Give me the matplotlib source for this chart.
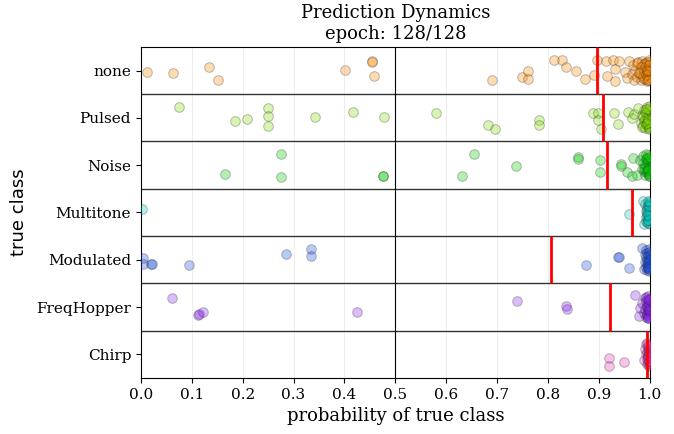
import matplotlib
matplotlib.use("Agg")
import matplotlib.pyplot as plt
import numpy as np

classes = ["none", "Pulsed", "Noise", "Multitone", "Modulated", "FreqHopper", "Chirp"]
colors = ["#ff8800", "#80dd00", "#00d000", "#00ccc0", "#1a4fe0", "#8a1ef0", "#e632b4"]
thresholds = [0.897, 0.908, 0.916, 0.965, 0.805, 0.921, 0.995]

none_x = [0.013, 0.064, 0.134, 0.152, 0.401, 0.455, 0.455, 0.458, 0.691, 0.749, 0.760, 0.760,
          0.812, 0.828, 0.835, 0.856, 0.872, 0.890, 0.897, 0.914, 0.916, 0.927, 0.931, 0.940,
          0.931, 0.952, 0.955, 0.960, 0.965, 0.968, 0.970, 0.972, 0.975, 0.977, 0.980, 0.982,
          0.984, 0.985, 0.987, 0.988, 0.990, 0.991, 0.992, 0.993, 0.994, 0.995, 0.996, 0.997,
          0.998, 0.999, 0.999, 1.000, 1.000, 0.998, 0.996, 0.994, 0.992, 0.989, 0.986, 0.983,
          0.979, 0.974, 0.999, 0.997, 0.995]
none_j = [0.04, 0.06, -0.07, 0.20, -0.01, -0.20, -0.18, 0.12, 0.20, 0.13, 0.01, 0.17,
          -0.22, -0.22, -0.07, 0.01, 0.18, 0.10, -0.22, -0.20, 0.11, -0.22, -0.03, -0.20,
          0.22, 0.03, 0.16, -0.21, 0.08, -0.12, 0.19, -0.02, 0.14, -0.18, 0.05, 0.21,
          -0.09, -0.21, 0.12, 0.00, -0.15, 0.17, 0.07, -0.04, 0.22, -0.19, 0.10, -0.11,
          0.03, 0.18, -0.06, -0.17, 0.13, -0.22, 0.20, -0.02, 0.09, -0.14, 0.15, -0.08,
          0.06, -0.16, -0.12, 0.21, 0.02]

pulsed_x = [0.075, 0.185, 0.208, 0.250, 0.250, 0.250, 0.342, 0.416, 0.477, 0.580, 0.683, 0.695,
            0.783, 0.783, 0.888, 0.898, 0.898, 0.905, 0.929, 0.938, 0.957, 0.965, 0.970, 0.977,
            0.982, 0.985, 0.987, 0.988, 0.990, 0.991, 0.992, 0.993, 0.994, 0.995, 0.996, 0.997,
            0.998, 0.999, 1.000, 0.999, 0.998, 0.996, 0.994, 0.992, 0.990, 0.989, 0.986, 0.984,
            0.997, 0.999, 1.000, 0.995, 0.993]
pulsed_j = [-0.22, 0.07, 0.03, -0.21, -0.03, 0.18, -0.02, -0.12, -0.02, -0.10, 0.15, 0.24,
            0.05, 0.15, -0.11, -0.11, 0.05, 0.24, -0.11, 0.14, -0.13, 0.01, -0.09, -0.20,
            0.10, -0.05, 0.18, -0.16, 0.02, 0.21, -0.10, 0.12, -0.22, 0.06, 0.16, -0.03,
            0.22, -0.14, 0.09, -0.07, 0.19, -0.19, 0.00, 0.14, -0.12, 0.07, -0.01, 0.20,
            0.04, 0.24, -0.24, 0.11, -0.18]

noise_x = [0.166, 0.276, 0.276, 0.475, 0.476, 0.631, 0.654, 0.737, 0.859, 0.859, 0.902, 0.902,
           0.943, 0.944, 0.955, 0.965, 0.967, 0.975, 0.980, 0.984, 0.986, 0.988, 0.990, 0.991,
           0.992, 0.993, 0.994, 0.995, 0.996, 0.997, 0.998, 0.999, 1.000, 0.999, 0.998, 0.996,
           0.994, 0.992, 0.989, 0.987, 0.999, 1.000, 0.997, 0.995]
noise_j = [0.18, -0.23, 0.25, 0.22, 0.23, 0.24, -0.23, 0.02, -0.17, -0.13, -0.11, 0.15,
           -0.02, 0.02, 0.15, 0.23, -0.16, 0.20, -0.10, 0.08, -0.19, 0.13, 0.00, 0.21,
           -0.14, 0.06, -0.06, 0.17, -0.22, 0.10, -0.02, 0.24, -0.12, 0.03, 0.19, -0.08,
           0.12, -0.24, 0.05, -0.04, -0.18, 0.22, 0.09, -0.15]

multi_x = [0.003, 0.959, 0.987, 0.988, 0.990, 0.992, 0.993, 0.994, 0.995, 0.996, 0.997, 0.998,
           0.999, 1.000, 0.999, 0.998, 0.997, 0.996, 0.995, 0.994, 0.993, 1.000, 0.999, 0.998,
           0.997, 0.996, 0.995]
multi_j = [-0.07, 0.03, -0.25, 0.25, -0.18, 0.10, -0.02, 0.20, -0.12, 0.05, 0.15, -0.22,
           0.00, 0.24, -0.08, 0.12, -0.16, 0.22, 0.02, -0.05, 0.18, -0.20, 0.08, -0.13,
           0.17, -0.24, 0.06]

mod_x = [0.005, 0.005, 0.020, 0.021, 0.094, 0.286, 0.335, 0.335, 0.874, 0.938, 0.939, 0.959,
         0.985, 0.988, 0.990, 0.991, 0.992, 0.993, 0.994, 0.995, 0.996, 0.997, 0.998, 0.999,
         1.000, 0.999, 0.998, 0.997, 0.996, 0.995, 0.994, 0.993, 0.999, 1.000, 0.998, 0.996]
mod_j = [-0.04, 0.08, 0.09, 0.09, 0.12, -0.13, -0.22, -0.08, 0.12, -0.06, -0.05, 0.18,
         -0.25, 0.20, -0.12, 0.05, 0.15, -0.20, 0.00, 0.22, -0.08, 0.10, -0.17, 0.24,
         -0.02, 0.13, -0.23, 0.04, 0.18, -0.14, 0.07, -0.05, 0.20, -0.10, 0.01, 0.16]

fh_x = [0.062, 0.113, 0.114, 0.122, 0.424, 0.739, 0.836, 0.837, 0.971, 0.980, 0.978, 0.985,
        0.988, 0.990, 0.991, 0.992, 0.993, 0.994, 0.995, 0.996, 0.997, 0.998, 0.999, 1.000,
        0.999, 0.998, 0.997, 0.996, 0.995, 0.994, 0.993, 1.000, 0.999, 0.998, 0.997, 0.996]
fh_j = [-0.19, 0.17, 0.15, 0.10, 0.10, -0.13, -0.02, 0.04, -0.25, 0.02, 0.19, -0.08,
        0.12, -0.20, 0.05, 0.22, -0.12, 0.00, 0.15, -0.24, 0.08, -0.05, 0.20, -0.16,
        0.03, 0.13, -0.10, 0.24, -0.02, 0.17, -0.21, 0.09, -0.14, 0.06, 0.23, -0.18]

chirp_x = [0.919, 0.919, 0.950, 0.990, 0.988, 0.992, 0.993, 0.994, 0.995, 0.996, 0.997, 0.998,
           0.999, 1.000, 0.999, 0.998, 0.997, 0.996, 0.995, 0.994, 0.999, 1.000, 0.998, 0.997,
           0.996, 0.999]
chirp_j = [0.08, 0.24, 0.16, -0.12, 0.12, 0.00, -0.22, 0.20, -0.05, 0.08, -0.15, 0.24,
           0.04, -0.18, 0.15, -0.08, 0.02, 0.18, -0.25, 0.10, -0.02, 0.22, -0.12, 0.06,
           -0.20, 0.13]

xs = [none_x, pulsed_x, noise_x, multi_x, mod_x, fh_x, chirp_x]
js = [none_j, pulsed_j, noise_j, multi_j, mod_j, fh_j, chirp_j]
xticks = [0.0, 0.1, 0.2, 0.3, 0.4, 0.5, 0.6, 0.7, 0.8, 0.9, 1.0]

fig = plt.figure(figsize=(6.74, 4.34), dpi=100)
ax = fig.add_axes([0.209, 0.129, 0.755, 0.763])

for i, (x, j) in enumerate(zip(xs, js)):
    y = i + np.array(j)
    ax.scatter(x, y, s=48, color=colors[i], alpha=0.3, edgecolors="#222222",
               linewidths=0.7, zorder=3)
    ax.vlines(thresholds[i], i - 0.5, i + 0.5, color="red", lw=2, zorder=4)

for k in range(1, len(classes)):
    ax.axhline(k - 0.5, color="#333333", lw=1.0, zorder=2)
for t in xticks:
    ax.axvline(t, color="#dddddd", lw=0.6, alpha=0.6, zorder=1)
ax.axvline(0.5, color="black", lw=0.8, zorder=2)

ax.set_xlim(0, 1)
ax.set_ylim(len(classes) - 0.5, -0.5)
ax.set_xticks(xticks)
ax.set_xticklabels([f"{t:.1f}" for t in xticks], family="DejaVu Serif", fontsize=11)
ax.set_yticks(range(len(classes)))
ax.set_yticklabels(classes, family="DejaVu Serif", fontsize=11)
ax.set_xlabel("probability of true class", family="DejaVu Serif", fontsize=13)
ax.set_ylabel("true class", family="DejaVu Sans", fontsize=13, labelpad=6)
ax.set_title("Prediction Dynamics\nepoch: 128/128", family="DejaVu Serif", fontsize=13)
for s in ax.spines.values():
    s.set_color("black")

fig.savefig("out.png", dpi=100)
